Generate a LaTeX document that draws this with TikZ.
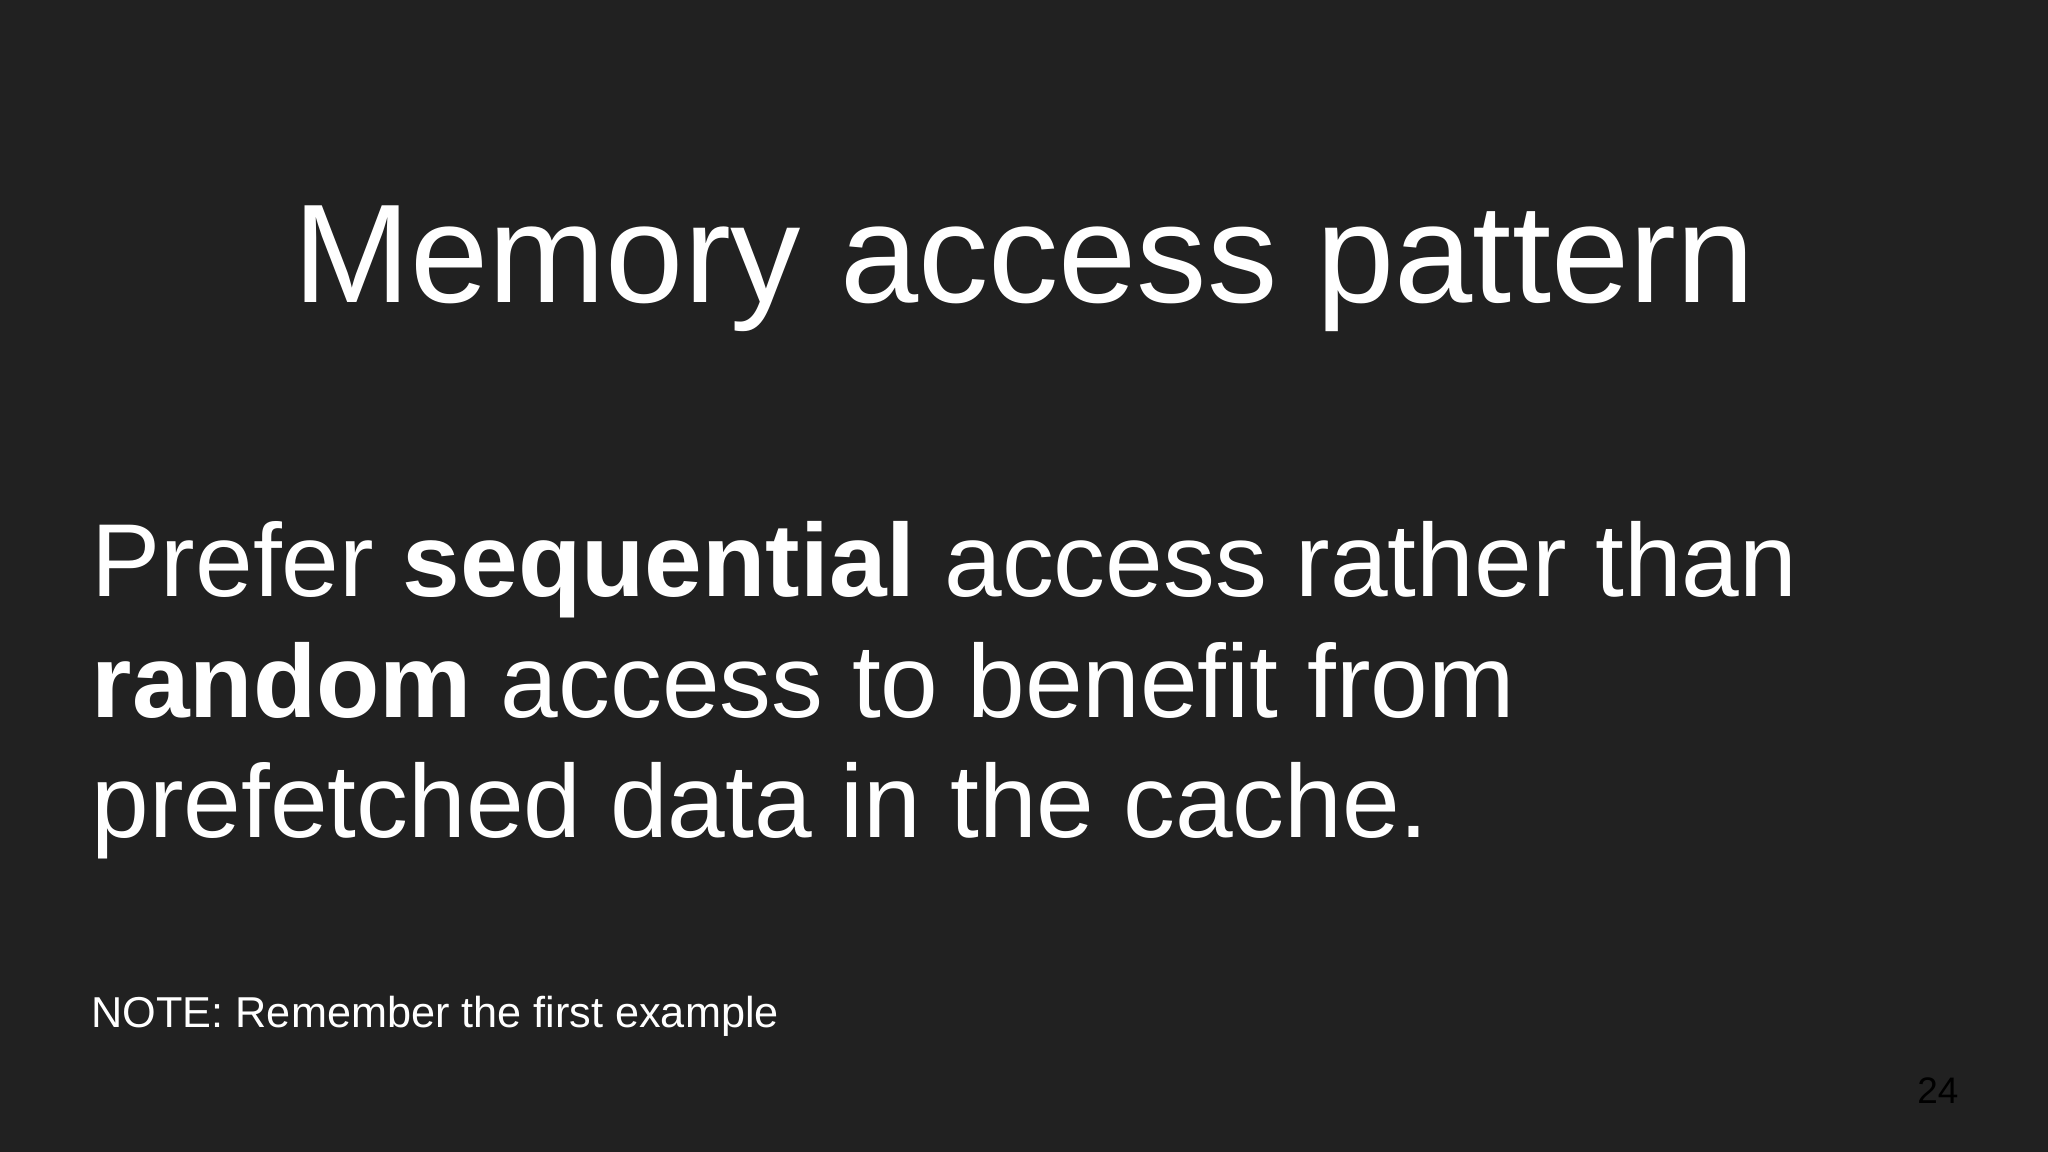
\documentclass[tikz,border=0pt]{standalone}
\usepackage{fontspec}
\setmainfont{Liberation Sans}
\definecolor{bg}{HTML}{212121}
\begin{document}
\begin{tikzpicture}[x=1cm,y=-1cm,
  txt/.style={inner sep=0pt,text=white}]
\fill[bg] (0,0) rectangle (20.48,11.52);
\useasboundingbox (0,0) rectangle (20.48,11.52);
\node[txt,anchor=base] (title) at (10.24,3.03) {\fontsize{40pt}{48pt}\selectfont Memory access pattern};
\node[txt,anchor=base west] (l1) at (0.91,5.97) {\fontsize{29.5pt}{34pt}\selectfont Prefer \textbf{sequential} access rather than};
\node[txt,anchor=base west] (l2) at (0.91,7.17) {\fontsize{29.5pt}{34pt}\selectfont \textbf{random} access to benefit from};
\node[txt,anchor=base west] (l3) at (0.91,8.37) {\fontsize{29.5pt}{34pt}\selectfont prefetched data in the cache.};
\node[txt,anchor=base west] (note) at (0.91,10.27) {\fontsize{12.3pt}{15pt}\selectfont NOTE: Remember the first example};
\node[inner sep=0pt,text=black,anchor=base east] (num) at (19.59,11.03) {\fontsize{10.5pt}{13pt}\selectfont 24};
\end{tikzpicture}
\end{document}
